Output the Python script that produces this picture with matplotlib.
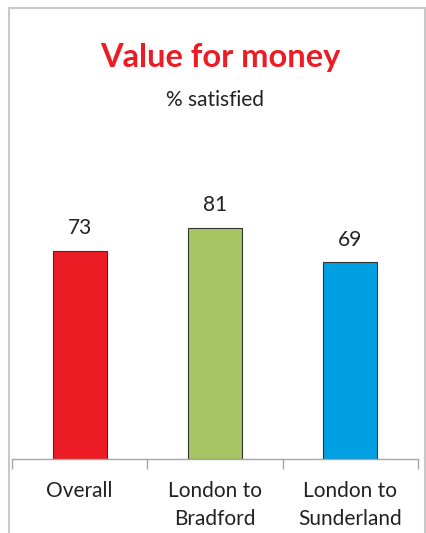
import matplotlib
matplotlib.use("Agg")
import matplotlib.pyplot as plt
from matplotlib.patches import Rectangle

# data
categories = ["Overall", "London to\nBradford", "London to\nSunderland"]
values = [73, 81, 69]
colors = ["#ED1C24", "#A5C663", "#00A0E3"]

plt.rcParams['font.family'] = ['Lato', 'DejaVu Sans']

fig = plt.figure(figsize=(4.27, 5.33), dpi=100)
ax = fig.add_axes([12/427, 74/533, 406/427, 285/533])

x = range(len(values))
ax.bar(x, values, width=0.4, color=colors, edgecolor="#333333", linewidth=0.8)
for i, v in enumerate(values):
    ax.text(i, v + 4.5, str(v), ha="center", va="bottom", fontsize=15, color="#222222")

ax.set_xlim(-0.5, len(values) - 0.5)
ax.set_ylim(0, 100)
ax.set_yticks([])
ax.set_xticks(list(x))
ax.set_xticklabels(categories, fontsize=15, color="#222222", linespacing=1.5)
ax.tick_params(axis="x", which="major", length=0, pad=16)
ax.set_xticks([-0.5, 0.5, 1.5, 2.5], minor=True)
ax.tick_params(axis="x", which="minor", length=7, color="#a6a6a6", width=1)
for s in ["top", "right", "left"]:
    ax.spines[s].set_visible(False)
ax.spines["bottom"].set_color("#a6a6a6")
ax.spines["bottom"].set_linewidth(1)

fig.text(220/427, 1 - 58/533, "Value for money", ha="center", va="center",
         fontsize=23.5, fontweight="bold", color="#ED1C24")
fig.text(215/427, 1 - 100/533, "% satisfied", ha="center", va="center",
         fontsize=15, color="#222222")

# outer chart frame
fig.patches.append(Rectangle((9/427, -0.05), 416/427, 1.05 - 8/533,
                             transform=fig.transFigure, fill=False,
                             edgecolor="#c8c8c8", linewidth=1.5))

fig.savefig("out.png", dpi=100)
